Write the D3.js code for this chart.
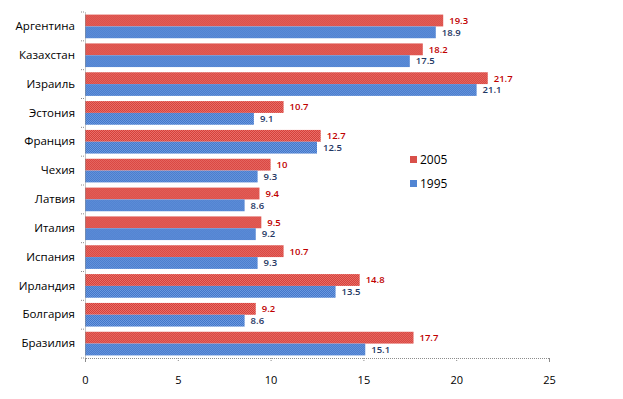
<!DOCTYPE html>
<html>
<head>
<meta charset="utf-8">
<script src="https://cdn.jsdelivr.net/npm/d3@7"></script>
<style>
  body { margin: 0; background: #fff; }
  svg { display: block; }
  .axis text { font-family: "Open Sans", "DejaVu Sans", sans-serif; font-size: 11px; fill: #000; }
  .axis path, .axis line { stroke: #8c8c8c; stroke-dasharray: 1 1; }
</style>
</head>
<body>
<div id="chart"></div>
<script>
// Data
const countries = ["Аргентина", "Казахстан", "Израиль", "Эстония", "Франция", "Чехия",
                   "Латвия", "Италия", "Испания", "Ирландия", "Болгария", "Бразилия"];
const values2005 = [19.3, 18.2, 21.7, 10.7, 12.7, 10, 9.4, 9.5, 10.7, 14.8, 9.2, 17.7];
const values1995 = [18.9, 17.5, 21.1, 9.1, 12.5, 9.3, 8.6, 9.2, 9.3, 13.5, 8.6, 15.1];
const seriesNames = ["2005", "1995"];
const xTicks = [0, 5, 10, 15, 20, 25];

const width = 623, height = 399;
const margin = {top: 12, right: 74, bottom: 41, left: 85};

const svg = d3.select("#chart").append("svg")
    .attr("width", width)
    .attr("height", height);

// checkered fills, like the old excel pattern
const defs = svg.append("defs");
function checker(id, c1, c2) {
    const p = defs.append("pattern")
        .attr("id", id)
        .attr("width", 2).attr("height", 2)
        .attr("patternUnits", "userSpaceOnUse");
    p.append("rect").attr("width", 2).attr("height", 2).attr("fill", c1);
    p.append("rect").attr("width", 1).attr("height", 1).attr("fill", c2);
    p.append("rect").attr("x", 1).attr("y", 1).attr("width", 1).attr("height", 1).attr("fill", c2);
}
checker("redPat", "#d63a36", "#e8746c");
checker("bluePat", "#3f74c8", "#6f9be0");

const fills = ["url(#redPat)", "url(#bluePat)"];
const labelColors = ["#c00000", "#1f3864"];
const swatchColors = ["#d9504a", "#5185d3"];

const x = d3.scaleLinear()
    .domain([0, 25])
    .range([margin.left, width - margin.right]);

const y = d3.scaleBand()
    .domain(countries)
    .range([margin.top, height - margin.bottom])
    .paddingInner(0.18)
    .paddingOuter(0.09);

const sub = d3.scaleBand()
    .domain(seriesNames)
    .range([0, y.bandwidth()]);

const rows = countries.map((c, i) => ({country: c, vals: [values2005[i], values1995[i]]}));

const groups = svg.selectAll(".row")
    .data(rows)
    .join("g")
    .attr("class", "row")
    .attr("transform", d => `translate(0,${y(d.country)})`);

groups.selectAll("rect")
    .data(d => d.vals.map((v, k) => ({v, k})))
    .join("rect")
    .attr("x", x(0))
    .attr("y", d => sub(seriesNames[d.k]))
    .attr("width", d => x(d.v) - x(0))
    .attr("height", sub.bandwidth())
    .attr("fill", d => fills[d.k]);

groups.selectAll("text")
    .data(d => d.vals.map((v, k) => ({v, k})))
    .join("text")
    .attr("x", d => x(d.v) + 6)
    .attr("y", d => sub(seriesNames[d.k]) + sub.bandwidth() / 2)
    .attr("dy", "0.35em")
    .attr("fill", d => labelColors[d.k])
    .style("font-family", "'Open Sans', 'DejaVu Sans', sans-serif")
    .style("font-size", "9.5px")
    .style("font-weight", "600")
    .text(d => d.v);

// x axis
svg.append("g")
    .attr("class", "axis")
    .attr("transform", `translate(0,${height - margin.bottom})`)
    .call(d3.axisBottom(x).tickValues(xTicks).tickSize(4).tickPadding(14))
    .call(g => g.selectAll("text").attr("dy", "0.71em"));

// y axis
const yAxis = svg.append("g")
    .attr("class", "axis")
    .attr("transform", `translate(${margin.left},0)`)
    .call(d3.axisLeft(y).tickSize(0).tickPadding(10));
yAxis.selectAll("text").style("font-size", "11.5px");

// category dividers on the y axis
const step = y.step();
yAxis.selectAll(".divider")
    .data(d3.range(countries.length + 1))
    .join("line")
    .attr("class", "divider")
    .attr("x1", -4).attr("x2", 0)
    .attr("y1", i => margin.top + i * step)
    .attr("y2", i => margin.top + i * step);

// legend
const legend = svg.append("g")
    .attr("transform", "translate(410,160)");
seriesNames.forEach((name, i) => {
    legend.append("rect")
        .attr("x", 0).attr("y", i * 24 - 4)
        .attr("width", 7).attr("height", 7)
        .attr("fill", swatchColors[i]);
    legend.append("text")
        .attr("x", 10).attr("y", i * 24)
        .attr("dy", "0.35em")
        .style("font-family", "'Open Sans', 'DejaVu Sans', sans-serif")
        .style("font-size", "12px")
        .text(name);
});
</script>
</body>
</html>
